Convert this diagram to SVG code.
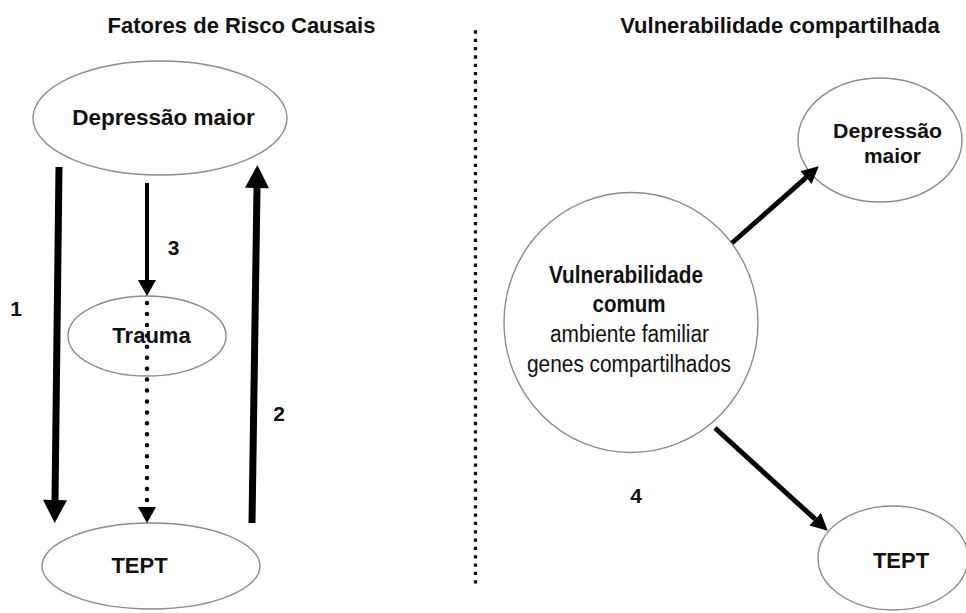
<svg xmlns="http://www.w3.org/2000/svg" width="966" height="613" viewBox="0 0 966 613">
  <style>
    .node { fill: #ffffff; stroke: #8c8c8c; stroke-width: 1.4; }
    .t { font-family: "Liberation Sans", Arial, Helvetica, sans-serif; fill: #111111; text-anchor: middle; }
    .b { font-weight: bold; }
    .title { font-size: 22px; font-weight: bold; }
    .lbl { font-size: 22px; font-weight: bold; }
    .num { font-size: 21px; font-weight: bold; }
    .edge { stroke: #000000; fill: none; }
  </style>
  <defs>
    <marker id="headBig" markerUnits="userSpaceOnUse" markerWidth="24" markerHeight="24" refX="0" refY="11.5" orient="auto" viewBox="0 0 22 23">
      <path d="M0,0 L22,11.5 L0,23 Z" fill="#000"/>
    </marker>
    <marker id="headMid" markerUnits="userSpaceOnUse" markerWidth="17" markerHeight="18" refX="0" refY="8.5" orient="auto" viewBox="0 0 15 17">
      <path d="M0,0 L15,8.5 L0,17 Z" fill="#000"/>
    </marker>
    <marker id="headDiag" markerUnits="userSpaceOnUse" markerWidth="17" markerHeight="17" refX="0" refY="8" orient="auto" viewBox="0 0 16 16">
      <path d="M0,0 L16,8 L0,16 Z" fill="#000"/>
    </marker>
  </defs>

  <!-- titles -->
  <text class="t title" x="241.5" y="33">Fatores de Risco Causais</text>
  <text class="t title" x="780" y="33">Vulnerabilidade compartilhada</text>

  <!-- divider -->
  <line x1="475.5" y1="30.35" x2="475.5" y2="584" stroke="#111" stroke-width="3.3" stroke-dasharray="3.3 5.03"/>

  <!-- nodes -->
  <g id="dep-left">
    <ellipse class="node" cx="160" cy="118" rx="127" ry="57"/>
    <text class="t" x="163.5" y="125" font-size="22.5" font-weight="bold">Depressão maior</text>
  </g>
  <g id="trauma">
    <ellipse class="node" cx="147" cy="336" rx="79" ry="40"/>
    <text class="t lbl" x="151.5" y="343">Trauma</text>
  </g>
  <g id="tept-left">
    <ellipse class="node" cx="151" cy="566" rx="109" ry="43"/>
    <text class="t lbl" x="139.5" y="573">TEPT</text>
  </g>
  <g id="dep-right">
    <ellipse class="node" cx="880" cy="140" rx="82" ry="62"/>
    <text class="t b" x="887.5" y="138" font-size="19.5" textLength="109" lengthAdjust="spacingAndGlyphs">Depressão</text>
    <text class="t b" x="892.5" y="163" font-size="19.5" textLength="57" lengthAdjust="spacingAndGlyphs">maior</text>
  </g>
  <g id="vuln">
    <ellipse class="node" cx="631" cy="322.5" rx="127" ry="130"/>
    <text class="t b" x="626" y="282.5" font-size="23.5" textLength="154" lengthAdjust="spacingAndGlyphs">Vulnerabilidade</text>
    <text class="t b" x="629" y="311.5" font-size="23.5" textLength="73" lengthAdjust="spacingAndGlyphs">comum</text>
    <text class="t" x="629.5" y="341.5" font-size="23.5" textLength="159" lengthAdjust="spacingAndGlyphs">ambiente familiar</text>
    <text class="t" x="629" y="371.5" font-size="23.5" textLength="204" lengthAdjust="spacingAndGlyphs">genes compartilhados</text>
  </g>
  <g id="tept-right">
    <ellipse class="node" cx="893" cy="558" rx="75" ry="52"/>
    <text class="t lbl" x="901" y="568">TEPT</text>
  </g>

  <!-- connectors -->
  <g id="connectors">
    <line class="edge" x1="59" y1="167" x2="55" y2="500" stroke-width="7" marker-end="url(#headBig)"/>
    <line class="edge" x1="252" y1="523" x2="257" y2="188" stroke-width="7" marker-end="url(#headBig)"/>
    <line class="edge" x1="147" y1="183" x2="147" y2="280" stroke-width="4" marker-end="url(#headMid)"/>
    <line class="edge" x1="147" y1="303" x2="147" y2="507" stroke-width="4.5" stroke-linecap="round" stroke-dasharray="0 10.94" marker-end="url(#headMid)"/>
    <line class="edge" x1="732" y1="243" x2="806" y2="177.6" stroke-width="5" marker-end="url(#headDiag)"/>
    <line class="edge" x1="715" y1="428" x2="815.2" y2="519.2" stroke-width="5" marker-end="url(#headDiag)"/>
  </g>

  <!-- labels -->
  <text class="t num" x="16" y="316">1</text>
  <text class="t num" x="279" y="421">2</text>
  <text class="t num" x="173.5" y="255">3</text>
  <text class="t num" x="636" y="503">4</text>
</svg>
